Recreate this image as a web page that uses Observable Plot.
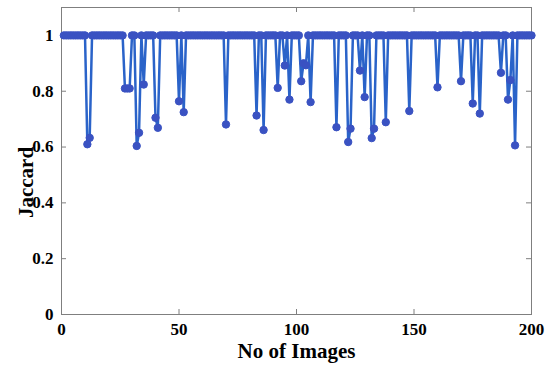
<!DOCTYPE html>
<html>
<head>
<meta charset="utf-8">
<script src="https://cdn.jsdelivr.net/npm/d3@7"></script>
<script src="https://cdn.jsdelivr.net/npm/@observablehq/plot@0.6"></script>
<style>
  html, body { margin: 0; padding: 0; background: #fff; }
  #chart svg { display: block; }
</style>
</head>
<body>
<div id="chart"></div>
<script>
// Image index 1..200 and Jaccard value per image
const imageIds = d3.range(1, 201);
const jaccard = [
  1, 1, 1, 1, 1, 1, 1, 1, 1, 1,
  0.61, 0.633, 1, 1, 1, 1, 1, 1, 1, 1,
  1, 1, 1, 1, 1, 1, 0.81, 0.81, 0.81, 1,
  1, 0.604, 0.651, 1, 0.824, 1, 1, 1, 1, 0.705,
  0.669, 1, 1, 1, 1, 1, 1, 1, 1, 0.764,
  1, 0.725, 1, 1, 1, 1, 1, 1, 1, 1,
  1, 1, 1, 1, 1, 1, 1, 1, 1, 0.681,
  1, 1, 1, 1, 1, 1, 1, 1, 1, 1,
  1, 1, 0.713, 1, 1, 0.661, 1, 1, 1, 1,
  1, 0.812, 1, 1, 0.892, 1, 0.77, 1, 1, 1,
  1, 0.836, 0.9, 0.893, 1, 0.761, 1, 1, 1, 1,
  1, 1, 1, 1, 1, 1, 0.671, 1, 1, 1,
  1, 0.618, 0.666, 1, 1, 1, 0.874, 1, 0.779, 1,
  1, 0.632, 0.666, 1, 1, 1, 1, 0.689, 1, 1,
  1, 1, 1, 1, 1, 1, 1, 0.729, 1, 1,
  1, 1, 1, 1, 1, 1, 1, 1, 1, 0.814,
  1, 1, 1, 1, 1, 1, 1, 1, 1, 0.836,
  1, 1, 1, 1, 0.756, 1, 1, 0.72, 1, 1,
  1, 1, 1, 1, 1, 1, 0.866, 1, 1, 0.77,
  0.84, 1, 0.606, 1, 1, 1, 1, 1, 1, 1
];
const xTicks = [0, 50, 100, 150, 200];
const yTicks = [0, 0.2, 0.4, 0.6, 0.8, 1];
const xDomain = [0, 200];
const yDomain = [0, 1.1];
const xLabel = "No of Images";
const yLabel = "Jaccard";

const data = imageIds.map((id, i) => ({id, v: jaccard[i]}));

const W = 550, H = 366;
const mL = 61, mR = 19, mT = 7, mB = 52;
const tickPx = 5;
const xPerPx = (xDomain[1] - xDomain[0]) / (W - mL - mR);
const yPerPx = (yDomain[1] - yDomain[0]) / (H - mT - mB);
// y position (in data units) of the centre of the rotated y-axis title
const yLabelAt = yDomain[0] + (H - mB - 182) * yPerPx;

const font = "'Liberation Serif', 'Times New Roman', serif";
const axisColor = "#7f7f7f";

const chart = Plot.plot({
  width: W,
  height: H,
  marginLeft: mL,
  marginRight: mR,
  marginTop: mT,
  marginBottom: mB,
  style: {fontFamily: font, background: "#fff", color: "#000"},
  x: {domain: xDomain},
  y: {domain: yDomain},
  marks: [
    Plot.frame({stroke: axisColor, strokeWidth: 1}),
    // inward ticks, bottom and top
    Plot.ruleX(xTicks, {x: d => d, y1: yDomain[0], y2: yDomain[0] + tickPx * yPerPx, stroke: axisColor}),
    Plot.ruleX(xTicks, {x: d => d, y1: yDomain[1], y2: yDomain[1] - tickPx * yPerPx, stroke: axisColor}),
    // inward ticks, left and right
    Plot.ruleY(yTicks, {y: d => d, x1: xDomain[0], x2: xDomain[0] + tickPx * xPerPx, stroke: axisColor}),
    Plot.ruleY(yTicks, {y: d => d, x1: xDomain[1], x2: xDomain[1] - tickPx * xPerPx, stroke: axisColor}),
    Plot.axisX({ticks: xTicks, tickSize: 0, tickPadding: 8, fontSize: 17, fontWeight: "bold", label: null, tickFormat: d => String(d)}),
    Plot.axisY({ticks: yTicks, tickSize: 0, tickPadding: 8, fontSize: 17, fontWeight: "bold", label: null, tickFormat: d => String(d)}),
    Plot.text([xLabel], {text: d => d, frameAnchor: "bottom", dy: 43, fontSize: 21, fontWeight: "bold", fill: "#000"}),
    Plot.text([yLabel], {text: d => d, y: () => yLabelAt, frameAnchor: "left", textAnchor: "middle", rotate: -90, dx: -35, fontSize: 21, fontWeight: "bold", fill: "#000"}),
    Plot.line(data, {x: "id", y: "v", stroke: "#2a63c9", strokeWidth: 2.5}),
    Plot.dot(data, {x: "id", y: "v", r: 3.7, fill: "#3a52c2", stroke: "#3a52c2", strokeWidth: 1})
  ]
});
document.getElementById("chart").appendChild(chart);
</script>
</body>
</html>
